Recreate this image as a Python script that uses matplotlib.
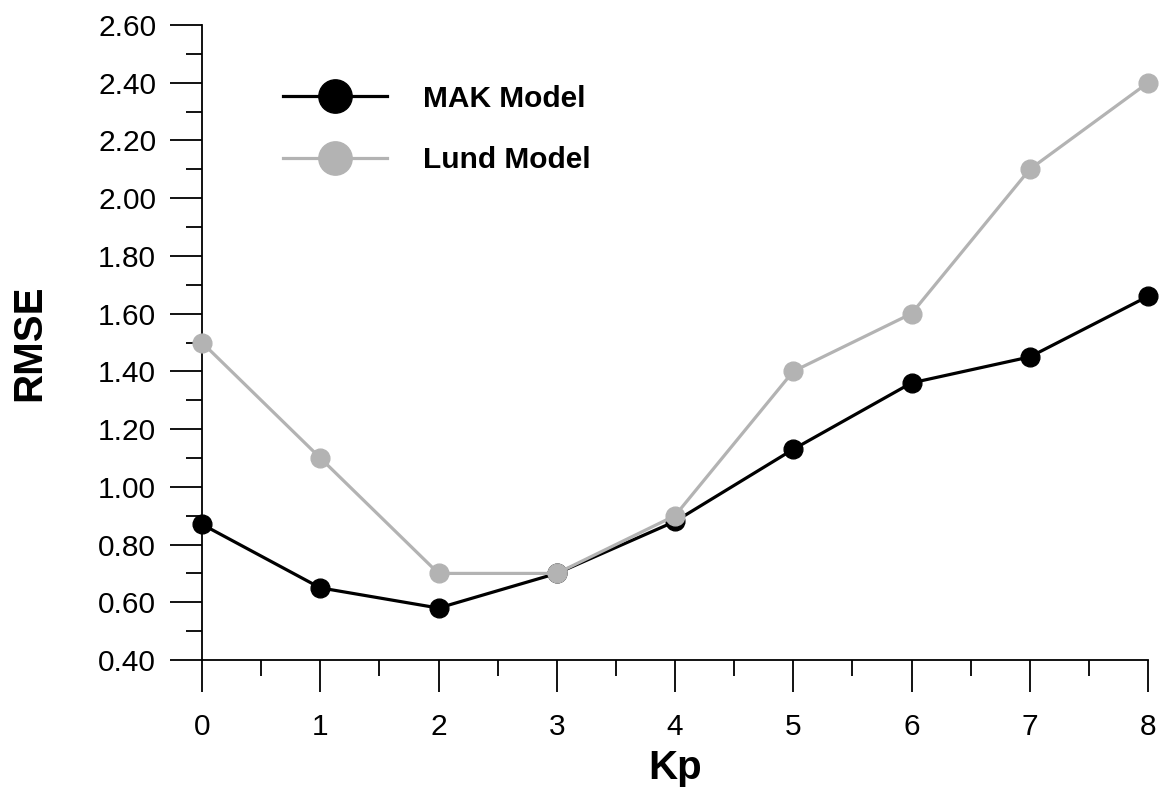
import numpy as np
import matplotlib.pyplot as plt
from matplotlib.lines import Line2D
from matplotlib.ticker import MultipleLocator, FormatStrFormatter

plt.rcParams['font.family'] = ['Liberation Sans', 'DejaVu Sans']

kp = [0, 1, 2, 3, 4, 5, 6, 7, 8]
mak_rmse = [0.87, 0.65, 0.58, 0.70, 0.88, 1.13, 1.36, 1.45, 1.66]
lund_rmse = [1.50, 1.10, 0.70, 0.70, 0.90, 1.40, 1.60, 2.10, 2.40]

black = '#000000'
grey = '#b3b3b3'

fig = plt.figure(figsize=(11.63, 7.91), dpi=100)
ax = fig.add_axes([202 / 1163, 131 / 791, 946 / 1163, 635 / 791])

ax.plot(kp, mak_rmse, color=black, lw=2.3, marker='o', ms=13.5,
        clip_on=False, zorder=3)
ax.plot(kp, lund_rmse, color=grey, lw=2.3, marker='o', ms=13.5,
        clip_on=False, zorder=4)

ax.set_xlim(0, 8)
ax.set_ylim(0.4, 2.6)
ax.xaxis.set_major_locator(MultipleLocator(1))
ax.xaxis.set_minor_locator(MultipleLocator(0.5))
ax.yaxis.set_major_locator(MultipleLocator(0.2))
ax.yaxis.set_minor_locator(MultipleLocator(0.1))
ax.yaxis.set_major_formatter(FormatStrFormatter('%.2f'))

for s in ['top', 'right']:
    ax.spines[s].set_visible(False)
for s in ['left', 'bottom']:
    ax.spines[s].set_linewidth(1.3)

ax.tick_params(which='major', direction='out', length=23, width=1.3,
               labelsize=21.5, pad=10)
ax.tick_params(which='minor', direction='out', length=11.5, width=1.3)
ax.tick_params(axis='x', which='major', pad=15)

ax.set_xlabel('Kp', fontsize=29, fontweight='bold', labelpad=6)
ax.set_ylabel('RMSE', fontsize=29, fontweight='bold', labelpad=36)

handles = [
    Line2D([], [], color=black, lw=2.3, marker='o', ms=24),
    Line2D([], [], color=grey, lw=2.3, marker='o', ms=24),
]
ax.legend(handles, ['MAK Model', 'Lund Model'], loc='upper left',
          bbox_to_anchor=(0.0856, 0.906), frameon=False, borderpad=0,
          borderaxespad=0, handlelength=3.5, handletextpad=1.2,
          labelspacing=1.13, prop={'size': 21.5, 'weight': 'bold'})

fig.savefig('out.png', dpi=100)
